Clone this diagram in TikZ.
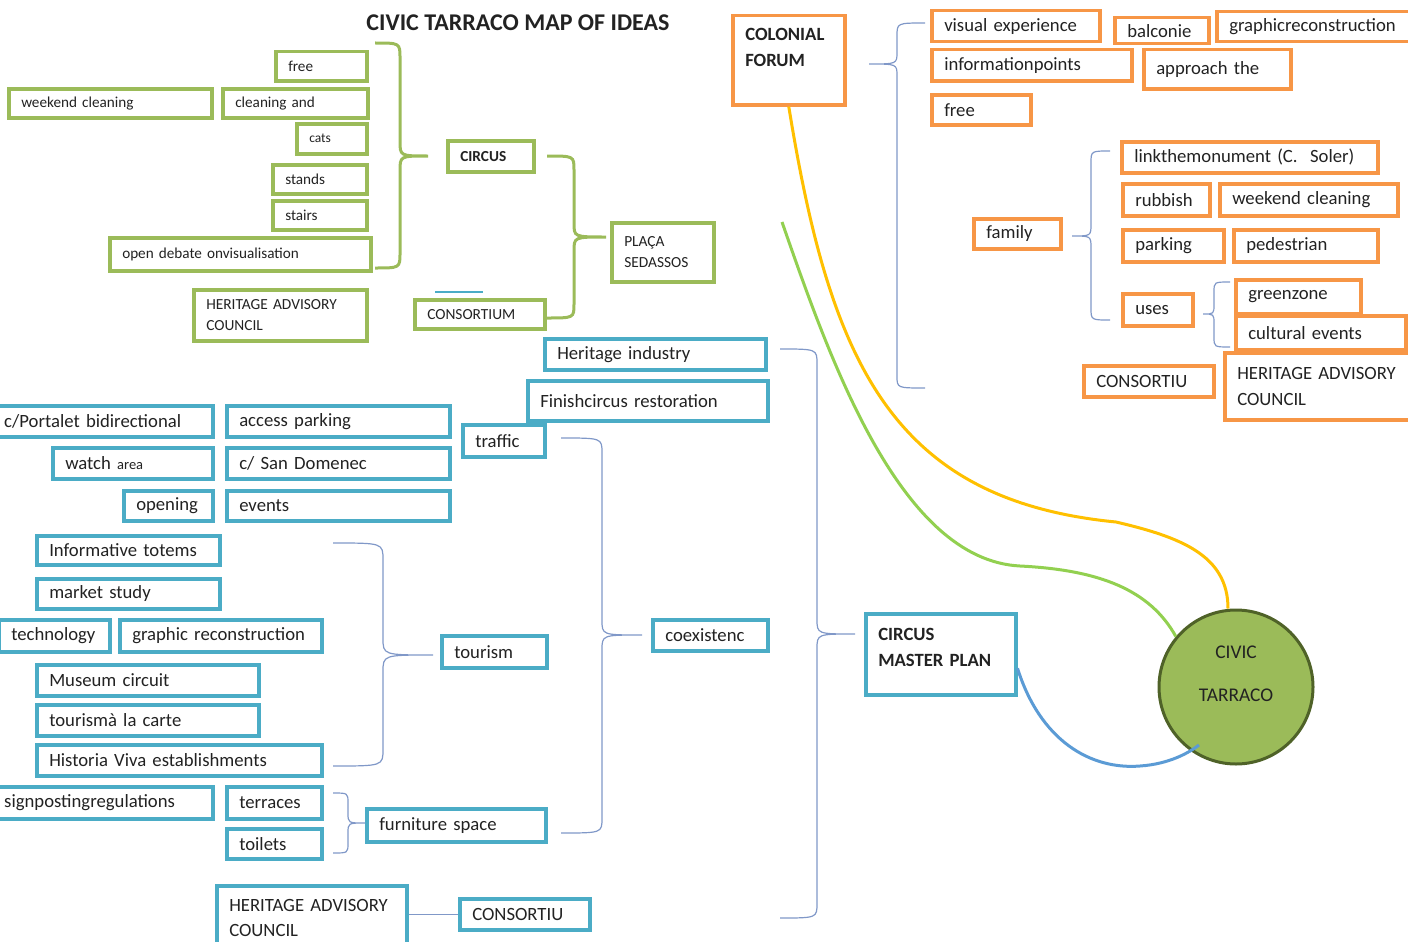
\documentclass[tikz,border=0pt]{standalone}
\usepackage{fontspec}
\setmainfont{Carlito}
\definecolor{grn}{HTML}{9BBB59}
\definecolor{org}{HTML}{F79646}
\definecolor{blu}{HTML}{4BACC6}
\definecolor{brc}{RGB}{128,152,200}
\definecolor{ylw}{HTML}{FFC000}
\definecolor{lgrn}{HTML}{92D050}
\definecolor{lblu}{HTML}{5B9BD5}
\definecolor{dgrn}{HTML}{4F6228}
\definecolor{ink}{HTML}{222222}
\tikzset{
x=1pt,y=-1pt,
box/.style={draw,line width=3.5pt,anchor=north west,inner xsep=12.5pt,inner ysep=0pt,align=left,text=ink},
sz/.style 2 args={/utils/exec={\pgfmathsetmacro\boxtw{#1-25}},text width=\boxtw pt,minimum height=#2},
gbox/.style={box,draw=grn,font=\fontsize{15.2}{21}\selectfont},
gcaps/.style={font=\fontsize{15.4}{21}\selectfont},
obox/.style={box,draw=org,font=\fontsize{18.7}{26}\selectfont},
bbox/.style={box,draw=blu,font=\fontsize{18.7}{25}\selectfont},
gbrace/.style={draw=grn,line width=3pt},
tbrace/.style={draw=brc,line width=1.2pt},
link/.style={line width=3pt},
hub/.style={circle,fill=grn,draw=dgrn,line width=3pt,minimum size=154,align=center,text=ink,font=\fontsize{19.4}{25}\selectfont}
}
\begin{document}
\begin{tikzpicture}
\useasboundingbox (0,0) rectangle (1408,942);
\clip (0,0) rectangle (1408,942);
\node[font=\bfseries\fontsize{24}{28}\selectfont,text=ink] (title) at (518,23) {CIVIC TARRACO MAP OF IDEAS};

% circus (green)
\node[gbox,sz={91}{29}] (gfree) at (274,50) {free};
\node[gbox,sz={203}{29}] (gweekend) at (7,87) {weekend cleaning};
\node[gbox,sz={145}{29}] (gcleaning) at (221,87) {cleaning and};
\node[gbox,sz={70}{30},font=\fontsize{13.5}{16}\selectfont] (gcats) at (295,122) {cats};
\node[gbox,sz={94}{29}] (gstands) at (271,163) {stands};
\node[gbox,sz={94}{29}] (gstairs) at (271,199) {stairs};
\node[gbox,sz={261}{33}] (gdebate) at (108,236) {open debate onvisualisation};
\node[gbox,sz={86}{31},font=\bfseries\fontsize{15.3}{18}\selectfont] (circus) at (446,139) {CIRCUS};
\node[gbox,gcaps,sz={173}{51}] (gheritage) at (192,288) {HERITAGE ADVISORY\\COUNCIL};
\node[gbox,gcaps,sz={130}{29}] (gconsort) at (413,298) {CONSORTIUM};
\node[gbox,gcaps,sz={102}{59}] (placa) at (610,221) {PLAÇA\\SEDASSOS};
\draw[blu,line width=1.5pt] (435,292) -- (483,292);
\draw[gbrace] (375,43) .. controls (400,43) .. (400,58) -- (400,141) .. controls (400,156) .. (428,156)
  .. controls (400,156) .. (400,171) -- (400,253) .. controls (400,268) .. (375,268);
\draw[gbrace] (547,156) .. controls (574,156) .. (574,170) -- (574,223) .. controls (574,237) .. (606,237)
  .. controls (574,237) .. (574,251) -- (574,304) .. controls (574,318) .. (547,318);

% colonial forum (orange)
\node[obox,sz={112}{89},font=\bfseries\fontsize{18.7}{26}\selectfont] (cforum) at (731,14) {COLONIAL\\FORUM\\\mbox{}};
\node[obox,sz={168}{31}] (ovisual) at (930,9) {visual experience};
\node[obox,sz={94}{26}] (obalcon) at (1113,16) {balconie};
\node[obox,sz={200}{30}] (ographic) at (1215,10) {graphicreconstruction};
\node[obox,sz={200}{31}] (oinfo) at (930,48) {informationpoints};
\node[obox,sz={147}{39}] (oapproach) at (1142,48) {approach the};
\node[obox,sz={99}{30}] (ofree) at (930,93) {free};
\node[obox,sz={87}{30}] (family) at (972,217) {family};
\node[obox,sz={256}{31}] (olink) at (1120,140) {linkthemonument (C.\ \ Soler)};
\node[obox,sz={87}{32}] (orubbish) at (1121,182) {rubbish};
\node[obox,sz={178}{32}] (oweekend) at (1218,182) {weekend cleaning};
\node[obox,sz={101}{32}] (oparking) at (1121,228) {parking};
\node[obox,sz={144}{32}] (opedest) at (1232,228) {pedestrian};
\node[obox,sz={70}{32}] (uses) at (1121,292) {uses};
\node[obox,sz={125}{34}] (ogreen) at (1234,278) {greenzone};
\node[obox,sz={170}{34}] (ocultural) at (1234,314) {cultural events};
\node[obox,sz={130}{31}] (oconsort) at (1082,364) {CONSORTIU};
\node[obox,sz={194}{67}] (oheritage) at (1223,351) {HERITAGE ADVISORY\\COUNCIL};
\draw[tbrace] (925,23) .. controls (897,23) .. (897,36) -- (897,52) .. controls (897,64) .. (869,64)
  .. controls (897,64) .. (897,76) -- (897,376) .. controls (897,388) .. (925,388);
\draw[tbrace] (1110,151) .. controls (1091,151) .. (1091,163) -- (1091,224) .. controls (1091,236) .. (1072,236)
  .. controls (1091,236) .. (1091,248) -- (1091,308) .. controls (1091,320) .. (1110,320);
\draw[tbrace] (1230,282) .. controls (1214,282) .. (1214,292) -- (1214,304) .. controls (1214,314) .. (1203,314)
  .. controls (1214,314) .. (1214,324) -- (1214,337) .. controls (1214,347) .. (1230,347);

% circus master plan (blue)
\node[bbox,sz={221}{31}] (bindustry) at (543,337) {Heritage industry};
\node[bbox,sz={240}{40}] (bfinish) at (526,379) {Finishcircus restoration};
\node[bbox,sz={82}{32}] (traffic) at (461,423) {traffic};
\node[bbox,sz={221}{31}] (bportalet) at (-10,404) {c/Portalet bidirectional};
\node[bbox,sz={223}{31}] (baccess) at (225,404) {access parking};
\node[bbox,sz={160}{31}] (bwatch) at (51,446) {watch {\fontsize{14.5}{16}\selectfont area}};
\node[bbox,sz={223}{31}] (bdomenec) at (225,446) {c/ San Domenec};
\node[bbox,sz={89}{30}] (bopening) at (122,489) {opening};
\node[bbox,sz={223}{30}] (bevents) at (225,489) {events};
\node[bbox,sz={183}{29}] (btotems) at (35,534) {Informative totems};
\node[bbox,sz={183}{30}] (bmarket) at (35,577) {market study};
\node[bbox,sz={111}{32}] (btechno) at (-3,618) {technology};
\node[bbox,sz={202}{32}] (bgraphic) at (118,618) {graphic reconstruction};
\node[bbox,sz={222}{31}] (bmuseum) at (35,663) {Museum circuit};
\node[bbox,sz={222}{31}] (bcarte) at (35,703) {tourismà la carte};
\node[bbox,sz={285}{31}] (bhistoria) at (35,743) {Historia Viva establishments};
\node[bbox,sz={221}{32}] (bsignpost) at (-10,785) {signpostingregulations};
\node[bbox,sz={95}{32}] (bterraces) at (225,785) {terraces};
\node[bbox,sz={95}{30}] (btoilets) at (225,827) {toilets};
\node[bbox,sz={179}{33}] (furniture) at (365,807) {furniture space};
\node[bbox,sz={105}{32}] (tourism) at (440,634) {tourism};
\node[bbox,sz={115}{31}] (coexist) at (651,618) {coexistenc};
\node[bbox,sz={150}{81},font=\bfseries\fontsize{18.7}{26}\selectfont] (cmaster) at (864,612) {CIRCUS\\MASTER PLAN\\[-12pt]\mbox{}};
\node[bbox,sz={190}{64}] (bheritage) at (215,884) {HERITAGE ADVISORY\\COUNCIL};
\node[bbox,sz={130}{31}] (bconsort) at (458,897) {CONSORTIU};
\draw[tbrace] (bheritage.east |- bconsort.west) -- (bconsort.west);
\draw[tbrace] (333,543) .. controls (383,543) .. (383,560) -- (383,638) .. controls (383,655) .. (433,655)
  .. controls (383,655) .. (383,672) -- (383,749) .. controls (383,766) .. (333,766);
\draw[tbrace] (561,438) .. controls (602,438) .. (602,453) -- (602,620) .. controls (602,635) .. (642,635)
  .. controls (602,635) .. (602,650) -- (602,818) .. controls (602,833) .. (561,833);
\draw[tbrace] (333,793) .. controls (348,793) .. (348,803) -- (348,813) .. controls (348,823) .. (365,823)
  .. controls (348,823) .. (348,833) -- (348,843) .. controls (348,853) .. (333,853);
\draw[tbrace] (780,349) .. controls (817,349) .. (817,364) -- (817,619) .. controls (817,634) .. (855,634)
  .. controls (817,634) .. (817,649) -- (817,903) .. controls (817,918) .. (780,918);

% civic tarraco
\node[hub] (civic) at (1236,687) {CIVIC\\[18pt]TARRACO\\[2pt]\mbox{}};
\coordinate (gstart) at (782,222);
\draw[link,ylw] (cforum.south) .. controls (830,360) and (890,500) .. (1116,522)
  .. controls (1180,537) and (1228,555) .. ([xshift=-8]civic.north);
\draw[link,lgrn] (gstart) .. controls (830,360) and (900,560) .. (1020,566)
  .. controls (1100,570) and (1150,590) .. (civic.140);
\draw[link,lblu] ([yshift=-14]cmaster.east) .. controls (1040,740) and (1090,770) .. (1140,766)
  .. controls (1170,764) and (1190,752) .. ([shift={(-37,58)}]civic.center);
\end{tikzpicture}
\end{document}
